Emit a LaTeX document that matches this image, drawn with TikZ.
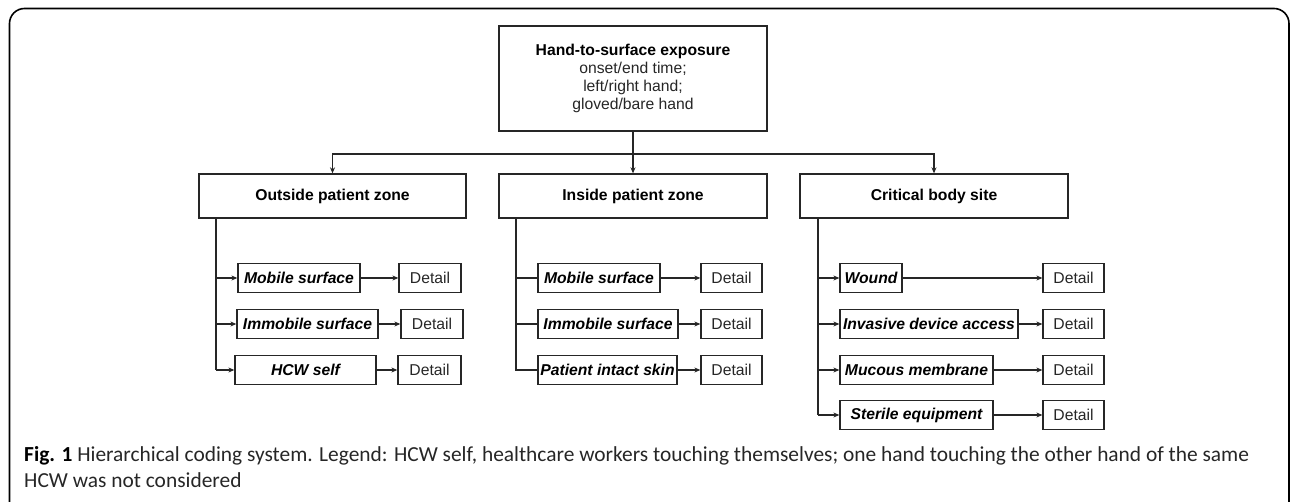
\documentclass[tikz,border=0pt]{standalone}
\usepackage{fontspec}
\setmainfont{Liberation Sans}
\newfontfamily\capfont{Carlito}
\usetikzlibrary{arrows.meta}
\begin{document}
\begin{tikzpicture}[x=1pt,y=-1pt,
  lbox/.style={draw=black!85, line width=1.3pt, inner sep=2pt, font=\fontsize{15.7}{19}\selectfont, align=center},
  cat/.style={lbox, font=\fontsize{15.7}{19}\selectfont\bfseries, minimum width=268pt, minimum height=44pt},
  item/.style={lbox, font=\fontsize{15.7}{19}\selectfont\bfseries\itshape, minimum height=29pt},
  detail/.style={lbox, text=black!85, minimum height=29pt},
  conn/.style={draw=black!85, line width=1.3pt},
  arr/.style={conn, -{Stealth[length=6pt,width=5pt]}}]
\useasboundingbox (0,0) rectangle (1290,502);
\draw[line width=1.6pt, rounded corners=15pt] (9.5,502.5) -- (9.5,8.5) -- (1289,8.5) -- (1289,502.5);
% top
\node[lbox, minimum width=268pt, minimum height=105pt] (top) at (633,78.5)
  {{\bfseries Hand-to-surface exposure}\\[-1pt]
   {\color{black!85}onset/end time;}\\[-1pt]
   {\color{black!85}left/right hand;}\\[-1pt]
   {\color{black!85}gloved/bare hand}};
% categories
\node[cat, minimum width=267pt] (out) at (332.5,196) {Outside patient zone};
\node[cat] (ins) at (633,196) {Inside patient zone};
\node[cat] (crit) at (934,196) {Critical body site};
\coordinate (bus) at (633,154);
\draw[arr] (top.south) -- (ins.north);
\draw[arr] (bus) -| (out.north);
\draw[arr] (bus) -| (crit.north);
% outside
\node[item, minimum width=122pt] (om) at (299,278) {Mobile surface};
\node[detail, minimum width=62pt] (od1) at (430,278) {Detail};
\node[item, minimum width=141pt] (oi) at (307.5,324) {Immobile surface};
\node[detail, minimum width=62pt] (od2) at (432,324) {Detail};
\node[item, minimum width=141pt] (oh) at (305.5,370) {HCW self};
\node[detail, minimum width=63pt] (od3) at (429.5,370) {Detail};
\coordinate (ot) at (216,218);
\draw[conn] (ot) -- (ot |- oh.west);
\draw[arr] (ot |- om.west) -- (om.west);
\draw[arr] (ot |- oi.west) -- (oi.west);
\draw[arr] (ot |- oh.west) -- (oh.west);
\draw[arr] (om) -- (od1);
\draw[arr] (oi) -- (od2);
\draw[arr] (oh) -- (od3);
% inside
\node[item, minimum width=122pt] (im) at (599,278) {Mobile surface};
\node[detail, minimum width=61pt] (id1) at (731.5,278) {Detail};
\node[item, minimum width=140pt] (ii) at (608,324) {Immobile surface};
\node[detail, minimum width=61pt] (id2) at (731.5,324) {Detail};
\node[item, minimum width=139pt] (ip) at (607.5,370) {Patient intact skin};
\node[detail, minimum width=61pt] (id3) at (731.5,370) {Detail};
\coordinate (it) at (516,218);
\draw[conn] (it) -- (it |- ip.west) -- (ip.west);
\draw[conn] (it |- im.west) -- (im.west);
\draw[conn] (it |- ii.west) -- (ii.west);
\draw[arr] (im) -- (id1);
\draw[arr] (ii) -- (id2);
\draw[arr] (ip) -- (id3);
% critical
\node[item, minimum width=62pt] (cw) at (871,278) {Wound};
\node[detail, minimum width=61pt] (cd1) at (1073.5,278) {Detail};
\node[item, minimum width=178pt] (ci) at (929,324) {Invasive device access};
\node[detail, minimum width=61pt] (cd2) at (1073.5,324) {Detail};
\node[item, minimum width=153pt] (cm) at (916.5,370) {Mucous membrane};
\node[detail, minimum width=61pt] (cd3) at (1073.5,370) {Detail};
\node[item, minimum width=153pt] (cs) at (916.5,415) {Sterile equipment};
\node[detail, minimum width=61pt] (cd4) at (1073.5,415) {Detail};
\coordinate (ct) at (818,218);
\draw[conn] (ct) -- (ct |- cs.west);
\draw[arr] (ct |- cw.west) -- (cw.west);
\draw[arr] (ct |- ci.west) -- (ci.west);
\draw[arr] (ct |- cm.west) -- (cm.west);
\draw[arr] (ct |- cs.west) -- (cs.west);
\draw[arr] (cw) -- (cd1);
\draw[arr] (ci) -- (cd2);
\draw[arr] (cm) -- (cd3);
\draw[arr] (cs) -- (cd4);
% caption
\node[anchor=north west, inner sep=0pt, align=left, text=black!85,
  font=\capfont\fontsize{21.4}{26}\selectfont] (cap) at (24,446)
  {{\bfseries\color{black}Fig. 1} Hierarchical coding system. Legend: HCW self, healthcare workers touching themselves; one hand touching the other hand of the same\\
   HCW was not considered};
\end{tikzpicture}
\end{document}
